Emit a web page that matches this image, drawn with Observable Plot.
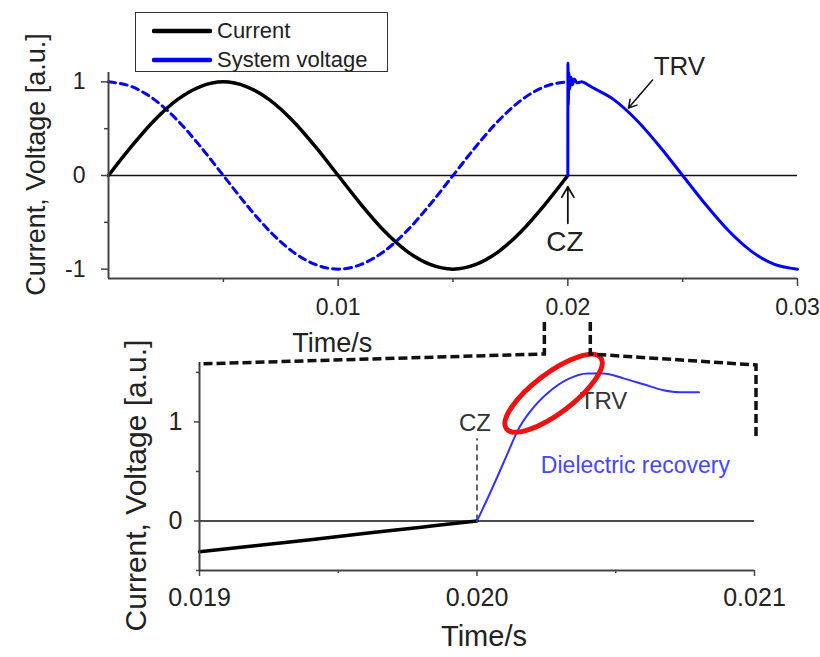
<!DOCTYPE html>
<html><head><meta charset="utf-8">
<script src="https://cdn.jsdelivr.net/npm/d3@7"></script>
<script src="https://cdn.jsdelivr.net/npm/@observablehq/plot@0.6"></script>
<style>
body{margin:0;background:#fff;}
#wrap{position:relative;width:820px;height:657px;overflow:hidden;font-family:"Liberation Sans",Arial,Helvetica,sans-serif;color:#222;background:#fff}
#wrap > svg{position:absolute;left:0}
.legend{position:absolute;left:135px;top:12px;width:251px;height:58px;border:1.5px solid #333;}
.legend .it{position:absolute;left:0;height:28px;width:251px}
.legend .it svg{position:absolute;left:16px;top:9px}
.legend .it span{position:absolute;left:81px;top:1px;font-size:22px;line-height:26px;color:#222}
</style></head><body><div id="wrap"></div>
<script>
// ---- data ----
const timeTop = [0,0.001,0.002,0.003,0.004,0.005,0.006,0.007,0.008,0.009,0.01,0.011,0.012,0.013,0.014,0.015,0.016,0.017,0.018,0.019,0.02];
const current = [0,0.31,0.59,0.81,0.95,1,0.95,0.81,0.59,0.31,0,-0.31,-0.59,-0.81,-0.95,-1,-0.95,-0.81,-0.59,-0.31,0];
const systemVoltage = [1,0.95,0.81,0.59,0.31,0,-0.31,-0.59,-0.81,-0.95,-1,-0.95,-0.81,-0.59,-0.31,0,0.31,0.59,0.81,0.95,1];
const trvTime = [0.02,0.020005,0.02002,0.02004,0.02008,0.02014,0.0202,0.02028,0.0204,0.0206,0.0208,0.021,0.022,0.023,0.024,0.025,0.026,0.027,0.028,0.029,0.03];
const trvValue = [0,1.2,0.75,1.1,0.92,1.05,0.97,1.03,0.99,1.0,0.98,0.95,0.81,0.59,0.31,0,-0.31,-0.59,-0.81,-0.95,-1];

const zoomTime = [0.019,0.0192,0.0194,0.0196,0.0198,0.0199,0.02];
const zoomCurrent = [-0.31,-0.25,-0.19,-0.125,-0.063,-0.03,0];
const recoveryTime = [0.02,0.02005,0.02011,0.020146,0.020193,0.020254,0.020326,0.020398,0.020456,0.020528,0.0206,0.020672,0.020733,0.0208];
const recoveryValue = [0,0.30,0.68,0.91,1.11,1.29,1.43,1.49,1.49,1.44,1.38,1.32,1.30,1.30];

const topXMajor = [0.01,0.02,0.03];
const topXMinor = [0.005,0.015,0.025];
const topYMajor = [-1,0,1];
const topYMinor = [-0.5,0.5];
const botXMajor = [0.019,0.020,0.021];
const botXMinor = [0.0195,0.0205];
const botYMajor = [0,1];
const botYMinor = [-0.5,0.5,1.5];
const legendLabels = ["Current","System voltage"];
const zoomWindow = [0.019,0.021];
const highlight = [{t:0.020276, v:1.29}];

// ---- build rows ----
const curRows = timeTop.map((t,i)=>({t, v: current[i]}));
const voltRows = timeTop.map((t,i)=>({t, v: systemVoltage[i]}));
const trvRows = trvTime.map((t,i)=>({t, v: trvValue[i]}));
const zcRows = zoomTime.map((t,i)=>({t, v: zoomCurrent[i]}));
const recRows = recoveryTime.map((t,i)=>({t, v: recoveryValue[i]}));

const FONT = "Liberation Sans, Arial, Helvetica, sans-serif";
const baseStyle = {background:"transparent", fontFamily: FONT, color:"#222", overflow:"visible"};
const AX = "#444";
const intFmt = d => String(d);

const topPlot = Plot.plot({
  width: 820, height: 360,
  marginLeft: 108, marginRight: 23, marginTop: 72, marginBottom: 82,
  x: {domain: [0, 0.03], label: null},
  y: {domain: [-1.1, 1.1], label: null},
  style: baseStyle,
  marks: [
    Plot.ruleY([0], {stroke: "#111", strokeWidth: 1.5}),
    Plot.line(voltRows, {x: "t", y: "v", stroke: "#0000ff", strokeWidth: 3, strokeDasharray: "7,5", curve: "monotone-x"}),
    Plot.line(curRows, {x: "t", y: "v", stroke: "#000", strokeWidth: 3.5, curve: "monotone-x"}),
    Plot.line(trvRows, {x: "t", y: "v", stroke: "#0000ff", strokeWidth: 3, curve: "monotone-x"}),
    Plot.ruleX([0], {y1: -1.1, y2: 1.1, stroke: AX, strokeWidth: 2}),
    Plot.ruleY([-1.1], {x1: 0, x2: 0.03, stroke: AX, strokeWidth: 2}),
    Plot.axisX(topXMajor, {tickSize: 8, tickPadding: 12, fontSize: 23, stroke: AX, strokeWidth: 1.5, tickFormat: d3.format(".2f"), label: null}),
    Plot.axisX(topXMinor, {tickSize: 4, stroke: AX, strokeWidth: 1.5, tickFormat: () => "", label: null}),
    Plot.axisY(topYMajor, {tickSize: 7, tickPadding: 16, fontSize: 23, stroke: AX, strokeWidth: 1.5, tickFormat: intFmt, label: null}),
    Plot.axisY(topYMinor, {tickSize: 4, stroke: AX, strokeWidth: 1.5, tickFormat: () => "", label: null}),
    Plot.text(["Time/s"], {text: d => d, x: 0.01, frameAnchor: "bottom", dx: -6, dy: 65, fontSize: 27, lineAnchor: "middle", fill: "#222"}),
    Plot.text(["Current, Voltage [a.u.]"], {text: d => d, frameAnchor: "left", textAnchor: "middle", lineAnchor: "middle", rotate: -90, dx: -72, dy: -11, fontSize: 27, fill: "#222"}),
    Plot.text(["CZ"], {text: d => d, x: 0.02, y: -0.71, dx: -3, fontSize: 28, lineAnchor: "middle", fill: "#222"}),
    Plot.arrow([0], {x1: 0.02, y1: -0.51, x2: 0.02, y2: -0.12, stroke: "#111", strokeWidth: 1.8, headLength: 10}),
    Plot.text(["TRV"], {text: d => d, x: 0.02486, y: 1.16, fontSize: 26, lineAnchor: "middle", fill: "#222"}),
    Plot.arrow([0], {x1: 0.02369, y1: 1.02, x2: 0.02264, y2: 0.72, stroke: "#111", strokeWidth: 1.5, headLength: 9})
  ]
});

// rotated ellipse symbol (semi-axes in px, angle in degrees on screen)
function ellipseSymbol(rx, ry, deg) {
  const a = deg * Math.PI / 180, c = Math.cos(a), s = Math.sin(a), k = 0.5523;
  const p = (x, y) => [x * c - y * s, x * s + y * c];
  return {draw(ctx) {
    ctx.moveTo(...p(rx, 0));
    ctx.bezierCurveTo(...p(rx, ry*k), ...p(rx*k, ry), ...p(0, ry));
    ctx.bezierCurveTo(...p(-rx*k, ry), ...p(-rx, ry*k), ...p(-rx, 0));
    ctx.bezierCurveTo(...p(-rx, -ry*k), ...p(-rx*k, -ry), ...p(0, -ry));
    ctx.bezierCurveTo(...p(rx*k, -ry), ...p(rx, -ry*k), ...p(rx, 0));
    ctx.closePath();
  }};
}

const BOT_TOP = 300;
const botPlot = Plot.plot({
  width: 820, height: 357,
  marginLeft: 199, marginRight: 66, marginTop: 62, marginBottom: 87,
  x: {domain: zoomWindow, label: null},
  y: {domain: [-0.5, 1.6], label: null},
  style: baseStyle,
  marks: [
    Plot.ruleY([0], {stroke: "#111", strokeWidth: 1.5}),
    Plot.ruleX([0.02], {y1: 0, y2: 0.83, stroke: "#333", strokeWidth: 1.5, strokeDasharray: "6,4"}),
    Plot.line(zcRows, {x: "t", y: "v", stroke: "#000", strokeWidth: 3.5, curve: "monotone-x"}),
    Plot.line(recRows, {x: "t", y: "v", stroke: "#3333ff", strokeWidth: 2, curve: "monotone-x"}),
    Plot.ruleX([0.019], {y1: -0.5, y2: 1.6, stroke: AX, strokeWidth: 2}),
    Plot.ruleY([-0.5], {x1: 0.019, x2: 0.021, stroke: AX, strokeWidth: 2}),
    Plot.axisX(botXMajor, {tickSize: 6, tickPadding: 12, fontSize: 25, stroke: AX, strokeWidth: 1.5, tickFormat: d3.format(".3f"), label: null}),
    Plot.axisX(botXMinor, {tickSize: 3, stroke: AX, strokeWidth: 1.5, tickFormat: () => "", label: null}),
    Plot.axisY(botYMajor, {tickSize: 5, tickPadding: 12, fontSize: 25, stroke: AX, strokeWidth: 1.5, tickFormat: intFmt, label: null}),
    Plot.axisY(botYMinor, {tickSize: 3, stroke: AX, strokeWidth: 1.5, tickFormat: () => "", label: null}),
    Plot.text(["Time/s"], {text: d => d, frameAnchor: "bottom", dx: 7, dy: 66, fontSize: 29, lineAnchor: "middle", fill: "#222"}),
    Plot.text(["Current, Voltage [a.u.]"], {text: d => d, frameAnchor: "left", textAnchor: "middle", lineAnchor: "middle", rotate: -90, dx: -63, dy: 19, fontSize: 30, fill: "#222"}),
    Plot.text(["CZ"], {text: d => d, x: 0.02, y: 0.99, dx: -2, fontSize: 24, lineAnchor: "middle", fill: "#333"}),
    Plot.text(["TRV"], {text: d => d, x: 0.020456, y: 1.21, fontSize: 24, lineAnchor: "middle", fill: "#333"}),
    Plot.text(["Dielectric recovery"], {text: d => d, x: 0.020571, y: 0.556, fontSize: 23, lineAnchor: "middle", fill: "#4646ff"}),
    Plot.dot(highlight, {x: "t", y: "v", symbol: ellipseSymbol(59, 20, -37), stroke: "#ee1111", strokeWidth: 5, fill: "none"})
  ]
});

const wrap = document.getElementById("wrap");
topPlot.style.top = "0px";
botPlot.style.top = BOT_TOP + "px";
wrap.appendChild(topPlot);
wrap.appendChild(botPlot);

// zoom connectors, positioned through both plots' scales
const tx = topPlot.scale("x"), ty = topPlot.scale("y");
const bx = botPlot.scale("x"), by = botPlot.scale("y");
const axisY0 = ty.apply(-1.1);
const yA = axisY0 + 44, yB = axisY0 + 76;
const ov = d3.create("svg").attr("width", 820).attr("height", 657).style("top", "0px").style("pointer-events", "none");
const conn = [
  [[tx.apply(zoomWindow[0]), yA], [tx.apply(zoomWindow[0]), yB], [bx.apply(zoomWindow[0]), by.apply(1.58) + BOT_TOP]],
  [[tx.apply(zoomWindow[1]), yA], [tx.apply(zoomWindow[1]), yB], [bx.apply(zoomWindow[1]) + 2, by.apply(1.57) + BOT_TOP], [bx.apply(zoomWindow[1]) + 2, by.apply(0.84) + BOT_TOP]]
];
ov.selectAll("path").data(conn).join("path")
  .attr("d", d => d3.line()(d))
  .attr("fill", "none").attr("stroke", "#111").attr("stroke-width", 3.5)
  .attr("stroke-dasharray", "9,4");
wrap.appendChild(ov.node());

// legend
const lg = document.createElement("div");
lg.className = "legend";
const colors = ["#000", "#0000ff"];
legendLabels.forEach((lab, i) => {
  const it = document.createElement("div");
  it.className = "it";
  it.style.top = (4 + i * 29) + "px";
  it.innerHTML = `<svg width="60" height="10"><line x1="2" x2="58" y1="5" y2="5" stroke="${colors[i]}" stroke-width="4.5" stroke-linecap="round"/></svg><span>${lab}</span>`;
  lg.appendChild(it);
});
wrap.appendChild(lg);
</script></body></html>
